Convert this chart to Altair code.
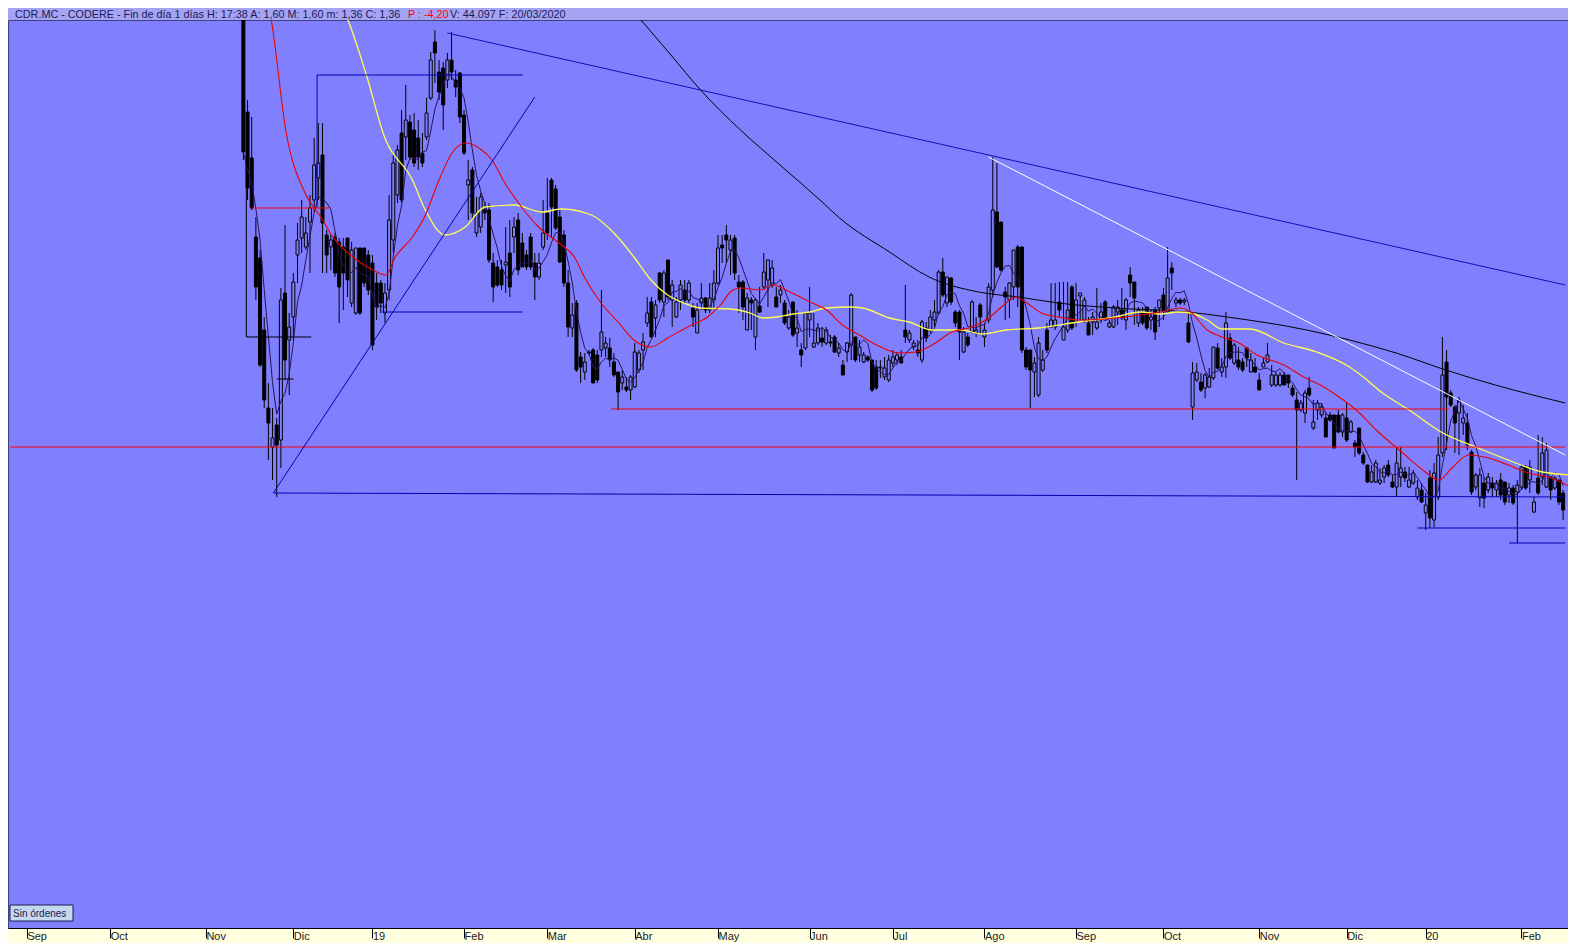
import altair as alt
import pandas as pd

# ---------------- data (trading-day index, price in céntimos) ----------------
START = 52  # index of the first visible session (0 = first session of Sep 2018)

OPEN = [
    988, 816, 770, 691, 670, 598, 520, 481, 503, 488,
    635, 588, 611, 673, 690, 681, 706, 728, 750, 773,
    693, 681, 691, 686, 681, 690, 625, 615, 680, 680,
    673, 665, 645, 645, 615, 638, 688, 733, 795, 791,
    806, 798, 790, 775, 791, 830, 886, 856, 860, 848,
    868, 848, 855, 813, 743, 758, 695, 701, 718, 718,
    665, 661, 658, 663, 675, 691, 708, 685, 673, 691,
    665, 651, 681, 715, 748, 739, 711, 693, 645, 600,
    625, 571, 556, 576, 578, 573, 578, 580, 580, 566,
    556, 545, 541, 538, 541, 558, 578, 605, 626, 610,
    655, 626, 668, 628, 611, 628, 638, 628, 620, 595,
    625, 630, 618, 628, 645, 683, 693, 678, 690, 646,
    646, 598, 628, 591, 622, 641, 648, 643, 631, 633,
    625, 600, 626, 595, 578, 580, 608, 581, 585, 590,
    585, 586, 591, 575, 563, 576, 583, 591, 573, 566,
    571, 568, 561, 560, 551, 548, 565, 568, 571, 598,
    588, 581, 578, 568, 600, 598, 608, 615, 656, 625,
    650, 616, 616, 576, 591, 596, 595, 623, 591, 608,
    638, 716, 706, 636, 628, 641, 681, 681, 578, 578,
    556, 533, 558, 598, 601, 601, 626, 588, 598, 641,
    606, 632, 608, 605, 606, 600, 608, 626, 601, 601,
    616, 618, 608, 653, 646, 605, 615, 621, 608, 618,
    620, 633, 616, 660, 625, 628, 626, 605, 521, 548,
    546, 540, 541, 550, 580, 556, 561, 590, 565, 568,
    566, 580, 556, 561, 548, 561, 566, 543, 543, 543,
    553, 553, 540, 528, 518, 515, 540, 500, 518, 513,
    510, 513, 513, 513, 496, 510, 496, 485, 500, 473,
    463, 446, 446, 445, 451, 463, 446, 441, 451, 456,
    441, 445, 431, 438, 415, 450, 408, 431, 475, 566,
    535, 521, 515, 505, 505, 476, 441, 430, 445, 438,
    445, 438, 448, 446, 433, 440, 436, 441, 461, 448,
    416, 450, 451, 441, 451, 440, 448, 435,
]
HIGH = [
    998, 828, 811, 711, 678, 611, 545, 520, 510, 640,
    703, 615, 655, 705, 728, 711, 733, 790, 805, 805,
    698, 693, 695, 690, 690, 690, 686, 680, 680, 680,
    678, 673, 655, 648, 645, 733, 775, 783, 818, 843,
    813, 815, 808, 795, 830, 876, 898, 868, 866, 875,
    896, 858, 856, 818, 768, 761, 731, 735, 726, 725,
    675, 668, 668, 701, 708, 711, 715, 695, 678, 695,
    675, 675, 728, 750, 750, 743, 718, 698, 658, 625,
    628, 576, 575, 578, 580, 578, 638, 591, 590, 575,
    556, 558, 551, 553, 585, 578, 595, 631, 631, 628,
    656, 658, 668, 648, 631, 648, 648, 648, 625, 625,
    645, 631, 645, 658, 693, 693, 703, 693, 693, 653,
    648, 635, 631, 630, 641, 675, 668, 668, 641, 643,
    628, 618, 626, 618, 585, 615, 641, 615, 605, 601,
    601, 593, 593, 585, 568, 586, 635, 591, 588, 576,
    573, 568, 568, 568, 571, 573, 578, 576, 578, 643,
    598, 588, 588, 608, 606, 618, 628, 658, 670, 651,
    651, 618, 618, 601, 595, 628, 611, 625, 605, 645,
    771, 765, 706, 641, 646, 678, 683, 681, 581, 578,
    571, 591, 578, 605, 645, 645, 646, 646, 646, 643,
    645, 635, 631, 611, 616, 640, 625, 628, 608, 623,
    628, 640, 630, 661, 646, 621, 621, 621, 618, 621,
    628, 640, 681, 666, 631, 630, 630, 615, 566, 565,
    555, 555, 560, 581, 585, 570, 616, 595, 585, 581,
    570, 581, 575, 570, 555, 571, 585, 563, 556, 556,
    556, 553, 543, 536, 528, 538, 551, 528, 528, 525,
    516, 516, 513, 518, 515, 525, 508, 488, 500, 476,
    463, 463, 468, 460, 463, 468, 453, 481, 481, 461,
    461, 458, 448, 445, 435, 458, 465, 491, 591, 578,
    538, 523, 531, 523, 515, 478, 455, 460, 451, 455,
    451, 448, 455, 446, 445, 443, 448, 463, 463, 468,
    431, 493, 491, 485, 451, 452, 448, 438,
]
LOW = [
    768, 728, 718, 628, 561, 520, 468, 448, 431, 460,
    548, 533, 588, 645, 675, 678, 655, 716, 728, 655,
    655, 658, 651, 605, 618, 631, 621, 613, 613, 641,
    633, 578, 608, 615, 605, 628, 675, 725, 725, 768,
    768, 761, 758, 761, 788, 828, 845, 828, 798, 840,
    848, 831, 805, 773, 708, 708, 691, 695, 708, 665,
    626, 641, 638, 635, 631, 675, 653, 661, 658, 658,
    628, 648, 678, 688, 691, 698, 665, 641, 591, 591,
    556, 545, 548, 573, 545, 545, 571, 571, 561, 551,
    518, 538, 536, 528, 540, 555, 558, 601, 590, 591,
    625, 611, 628, 601, 610, 618, 625, 625, 601, 595,
    618, 615, 615, 618, 643, 665, 665, 653, 648, 615,
    608, 598, 598, 578, 615, 638, 621, 640, 621, 625,
    603, 598, 591, 581, 561, 578, 591, 580, 583, 581,
    583, 581, 575, 571, 553, 566, 568, 566, 566, 565,
    566, 536, 538, 550, 548, 546, 561, 563, 565, 585,
    585, 578, 571, 565, 586, 595, 601, 613, 631, 621,
    623, 601, 568, 575, 581, 595, 591, 593, 581, 605,
    631, 660, 656, 608, 610, 628, 621, 575, 558, 520,
    531, 531, 556, 575, 601, 598, 611, 588, 595, 598,
    601, 608, 605, 593, 593, 598, 605, 608, 600, 600,
    603, 608, 598, 631, 603, 601, 603, 598, 598, 588,
    601, 608, 615, 638, 621, 623, 623, 585, 508, 546,
    536, 530, 540, 548, 558, 551, 550, 568, 563, 558,
    556, 561, 556, 555, 538, 561, 565, 541, 541, 541,
    543, 540, 531, 448, 516, 505, 531, 498, 508, 510,
    491, 506, 480, 495, 491, 486, 495, 471, 473, 463,
    445, 445, 445, 443, 445, 451, 440, 431, 441, 446,
    440, 443, 428, 425, 398, 400, 401, 428, 471, 478,
    521, 475, 473, 493, 478, 433, 438, 421, 420, 435,
    431, 431, 428, 423, 425, 423, 385, 438, 438, 435,
    415, 433, 443, 440, 428, 438, 423, 408,
]
CLOSE = [
    776, 740, 720, 641, 563, 528, 505, 490, 483, 628,
    568, 601, 646, 688, 711, 695, 720, 763, 765, 705,
    673, 688, 655, 641, 655, 648, 678, 680, 615, 645,
    638, 583, 621, 625, 635, 708, 765, 778, 728, 808,
    771, 765, 771, 765, 815, 868, 875, 836, 823, 868,
    856, 841, 811, 775, 748, 715, 715, 731, 715, 668,
    641, 643, 643, 666, 641, 701, 658, 661, 661, 661,
    651, 665, 695, 695, 721, 700, 666, 645, 601, 613,
    558, 561, 566, 575, 545, 548, 596, 585, 568, 553,
    536, 551, 538, 551, 576, 575, 586, 615, 591, 623,
    628, 655, 631, 643, 626, 643, 628, 645, 611, 618,
    630, 618, 630, 645, 680, 680, 688, 688, 655, 641,
    621, 630, 625, 628, 616, 656, 668, 660, 621, 638,
    605, 611, 593, 600, 573, 615, 615, 585, 600, 586,
    598, 585, 576, 580, 553, 585, 633, 568, 581, 573,
    568, 538, 540, 561, 560, 568, 571, 573, 565, 591,
    595, 585, 575, 606, 590, 611, 616, 656, 633, 651,
    626, 605, 596, 596, 583, 626, 598, 611, 598, 641,
    718, 661, 658, 631, 645, 678, 641, 578, 561, 558,
    565, 585, 568, 578, 608, 608, 618, 601, 618, 600,
    628, 635, 628, 593, 611, 606, 616, 610, 605, 621,
    621, 610, 628, 645, 630, 618, 605, 600, 611, 596,
    628, 618, 650, 655, 628, 625, 628, 586, 555, 556,
    538, 553, 551, 581, 560, 561, 605, 570, 583, 561,
    558, 570, 568, 556, 538, 565, 573, 553, 553, 553,
    543, 545, 533, 518, 525, 535, 533, 506, 525, 521,
    491, 508, 480, 496, 513, 488, 506, 481, 475, 465,
    446, 456, 465, 448, 460, 453, 441, 465, 460, 450,
    448, 455, 440, 426, 423, 410, 455, 473, 553, 531,
    523, 505, 528, 510, 483, 436, 453, 453, 430, 451,
    440, 445, 433, 426, 440, 425, 443, 461, 440, 461,
    426, 435, 475, 478, 438, 450, 426, 418,
]

MONTH_TICKS = [0, 20, 43, 64, 83, 105, 125, 146, 166, 188, 208, 230, 252, 273, 296, 317, 336, 359]
MONTH_LABELS = ["Sep", "Oct", "Nov", "Dic", "19", "Feb", "Mar", "Abr", "May", "Jun",
                "Jul", "Ago", "Sep", "Oct", "Nov", "Dic", "20", "Feb"]

# long moving average (black)
MA_LONG_I = [140.3, 147.5, 154.7, 161.8, 171.4, 180.9, 190.5, 195.2, 207.2, 216.7, 228.6,
             238.2, 247.7, 261.3, 278.8, 288.3, 307.4, 317.7, 328.9, 340.8, 352.7, 369.5]
MA_LONG_V = [943, 908, 873, 838, 798, 763, 728, 710, 676, 651, 636,
             631, 625, 620, 616, 611, 598, 588, 575, 558, 543, 525]
# medium moving average (yellow)
MA_MID_I = [73.5, 77.1, 81.4, 85.9, 92.6, 95.7, 100.5, 105.3, 110.0, 117.2, 123.6, 128.4,
            135.6, 141.0, 145.8, 149.9, 153.9, 157.8, 161.8, 169.0, 173.7, 176.8, 180.2,
            184.0, 188.1, 192.1, 197.6, 200.7, 207.2, 211.9, 217.4, 224.6, 229.4, 235.1,
            243.0, 252.5, 261.3, 267.5, 272.3, 276.4, 279.5, 283.5, 287.1, 293.8, 301.9,
            309.8, 317.7, 321.0, 325.3, 332.0, 340.1, 348.0, 355.8, 364.0, 370.9]
MA_MID_V = [938, 908, 855, 791, 748, 718, 693, 701, 721, 723, 716, 719,
            713, 695, 671, 648, 633, 625, 620, 619, 615, 610, 611,
            614, 616, 620, 621, 620, 610, 606, 598, 598, 594, 598,
            600, 606, 611, 616, 614, 616, 615, 608, 599, 599, 585,
            576, 561, 551, 536, 518, 495, 481, 468, 456, 453]
# short moving average (red)
MA_SHORT_I = [57.3, 58.7, 62.3, 66.8, 70.6, 73.5, 78.3, 83.1, 86.2, 88.5, 92.6, 95.5, 99.0,
              102.1, 105.3, 108.6, 111.7, 114.8, 118.1, 122.9, 128.4, 131.5, 133.9, 137.9,
              142.0, 145.8, 149.9, 153.9, 158.7, 163.5, 166.6, 169.0, 171.4, 176.1, 179.2,
              183.3, 188.1, 192.1, 195.9, 200.0, 204.1, 209.5, 213.6, 217.4, 222.2, 227.0,
              231.0, 234.1, 237.5, 239.9, 243.7, 247.7, 253.2, 261.3, 267.5, 272.3, 277.1,
              279.5, 283.5, 287.1, 290.7, 295.5, 301.9, 306.7, 311.5, 316.2, 319.3, 324.1,
              330.5, 335.3, 339.1, 342.5, 346.3, 351.1, 355.8, 360.6, 365.4, 370.9]
MA_SHORT_V = [938, 908, 795, 735, 711, 691, 671, 658, 653, 671, 691, 711, 748,
              775, 785, 780, 768, 745, 725, 701, 683, 671, 651, 625,
              606, 588, 581, 590, 601, 611, 623, 636, 640, 638, 643,
              636, 626, 618, 603, 593, 583, 575, 576, 583, 596, 601,
              610, 621, 631, 626, 615, 611, 608, 610, 613, 616, 620,
              616, 598, 591, 586, 573, 563, 551, 541, 528, 518, 498,
              475, 458, 448, 461, 473, 470, 463, 455, 451, 441]

# hand-drawn study lines: start index, start price, end index, end price, colour
LN_I1 = [-4, 59.2, 59.2, 101, 52.7, 52.7, 69.7, 69.7, 85.4, 54, 60, 140.3, 334, 356, 231]
LN_V1 = [481, 435, 435, 895, 773, 591, 853, 853, 616, 720, 549, 519, 400, 385, 771]
LN_I2 = [369.5, 369.5, 122, 369.5, 52.7, 68.3, 69.7, 119.1, 119.1, 72.6, 64, 341.5, 369.5, 369.5, 369.5]
LN_V2 = [481, 431, 831, 643, 591, 591, 720, 853, 616, 720, 549, 519, 400, 385, 473]
LN_COL = ["#ff0000", "#0000b0", "#0000b0", "#1010b8", "#000000", "#000000", "#0000b0",
          "#0000b0", "#0000b0", "#ff0000", "#000000", "#ff0000", "#0000b0", "#0000b0", "#ffffff"]

HEADER_MAIN = "CDR.MC - CODERE - Fin de día 1 días  H: 17:38  A: 1,60  M: 1,60  m: 1,36  C: 1,36"
HEADER_RED = "P : -4,20"
HEADER_TAIL = "V: 44.097  F: 20/03/2020"

# ---------------- frames ----------------
BG = "#8080ff"
n = len(OPEN)
candles = pd.DataFrame({
    "i": list(range(START, START + n)),
    "o": OPEN, "h": HIGH, "l": LOW, "c": CLOSE,
})
candles["fill"] = [BG if c >= o else "#000000" for o, c in zip(OPEN, CLOSE)]

mas = pd.concat([
    pd.DataFrame({"i": MA_LONG_I, "v": MA_LONG_V, "s": "long", "col": "#000000", "w": 1.0}),
    pd.DataFrame({"i": MA_MID_I, "v": MA_MID_V, "s": "mid", "col": "#ffff50", "w": 1.3}),
    pd.DataFrame({"i": MA_SHORT_I, "v": MA_SHORT_V, "s": "short", "col": "#e80000", "w": 1.1}),
])
lines = pd.DataFrame({"i1": LN_I1, "v1": LN_V1, "i2": LN_I2, "v2": LN_V2, "col": LN_COL})
one = pd.DataFrame({"k": [0]})

W, H = 1560, 908
XS = alt.Scale(domain=[-3.341, 368.97], nice=False, zero=False)
YS = alt.Scale(domain=[0, 908], nice=False, zero=False)
NB = "\u00a0"
label_expr = ("[" + ",".join(f"'{NB}{m}'" for m in MONTH_LABELS) + "][indexof(["
              + ",".join(str(t) for t in MONTH_TICKS) + "], datum.value)]")
XA = alt.Axis(values=MONTH_TICKS, labelExpr=label_expr, title=None, grid=False,
              tickSize=10, tickColor="#000000", domainColor="#000000",
              labelAlign="left", labelBaseline="alphabetic", labelPadding=1,
              labelFont="Liberation Sans", labelFontSize=11, labelColor="#202020",
              labelOverlap=False, labelFlush=False, labelBound=False)

def X(f):
    return alt.X(f, type="quantitative", scale=XS, axis=XA)

def Y(f):
    return alt.Y(f, type="quantitative", scale=YS, axis=None)

wicks = alt.Chart(candles).mark_rule(color="#000000", strokeWidth=1, clip=True).encode(
    x=X("i"), y=Y("l"), y2="h")
bodies = alt.Chart(candles).mark_bar(size=3, stroke="#000000", strokeWidth=1, clip=True).encode(
    x=X("i"), y=Y("o"), y2="c", fill=alt.Fill("fill:N", scale=None))
ma_lines = alt.Chart(mas).mark_line(interpolate="monotone", clip=True).encode(
    x=X("i"), y=Y("v"), detail="s:N", color=alt.Color("col:N", scale=None),
    strokeWidth=alt.StrokeWidth("w:Q", scale=None))
ma_fast = alt.Chart(candles).transform_window(
    m="mean(c)", frame=[-4, 0], sort=[{"field": "i"}]
).mark_line(strokeWidth=1, color="#2a1060", clip=True).encode(x=X("i"), y=Y("m"))
studies = alt.Chart(lines).mark_rule(strokeWidth=1, clip=True).encode(
    x=X("i1"), x2="i2", y=Y("v1"), y2="v2", color=alt.Color("col:N", scale=None))

header_bg = alt.Chart(one).mark_rect(fill="#a4a4f2", clip=False).encode(
    x=alt.value(0), x2=alt.value(W), y=alt.value(-12), y2=alt.value(0))
t_font = dict(font="Liberation Sans", fontSize=10.8, align="left", baseline="middle", clip=False)
h1 = alt.Chart(one).mark_text(text=HEADER_MAIN, color="#1a1a5a", **t_font).encode(
    x=alt.value(7), y=alt.value(-5.5))
h2 = alt.Chart(one).mark_text(text=HEADER_RED, color="#ff0000", **t_font).encode(
    x=alt.value(400), y=alt.value(-5.5))
h3 = alt.Chart(one).mark_text(text=HEADER_TAIL, color="#1a1a5a", **t_font).encode(
    x=alt.value(442), y=alt.value(-5.5))
btn = alt.Chart(one).mark_rect(fill="#c4d8ee", stroke="#1a1a50", strokeWidth=1).encode(
    x=alt.value(2), x2=alt.value(65), y=alt.value(885), y2=alt.value(901))
btn_t = alt.Chart(one).mark_text(text="Sin órdenes", color="#1a1a50", font="Liberation Sans",
                                 fontSize=10, align="left", baseline="middle").encode(
    x=alt.value(5), y=alt.value(893.5))

chart = alt.layer(
    wicks, bodies, ma_fast, ma_lines, studies, header_bg, h1, h2, h3, btn, btn_t
).properties(
    width=W, height=H,
    padding={"left": 0, "right": 0, "top": 12, "bottom": 15},
    autosize=alt.AutoSizeParams(type="none"),
    background="#ffffe0",
).configure_view(fill=BG, stroke="#404080", strokeWidth=1)

chart.save("out.html", embed_options={"renderer": "svg", "actions": False})
